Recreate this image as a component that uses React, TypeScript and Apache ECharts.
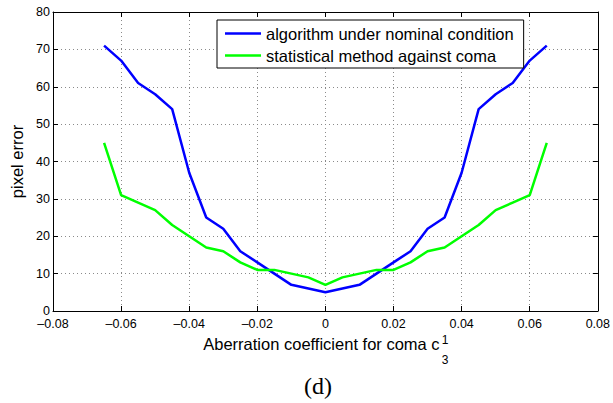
import React, { useEffect, useRef } from "react";
import * as echarts from "echarts";

const xValues = [
  -0.065, -0.06, -0.055, -0.05, -0.045, -0.04, -0.035, -0.03, -0.025, -0.02, -0.015, -0.01, -0.005,
  0, 0.005, 0.01, 0.015, 0.02, 0.025, 0.03, 0.035, 0.04, 0.045, 0.05, 0.055, 0.06, 0.065,
];
const algorithmNominal = [
  71, 67, 61, 58, 54, 37, 25, 22, 16, 13, 10, 7, 6, 5, 6, 7, 10, 13, 16, 22, 25, 37, 54, 58, 61, 67, 71,
];
const statisticalComa = [
  45, 31, 29, 27, 23, 20, 17, 16, 13, 11, 11, 10, 9, 7, 9, 10, 11, 11, 13, 16, 17, 20, 23, 27, 29, 31, 45,
];
const seriesNames = ["algorithm under nominal condition", "statistical method against coma"];
const xAxisTitle = "Aberration coefficient for coma c";
const yAxisTitle = "pixel error";
const panelLabel = "(d)";

const FONT = "'Liberation Sans', Arial, Helvetica, sans-serif";

export default function App() {
  const ref = useRef<HTMLDivElement>(null);
  useEffect(() => {
    if (!ref.current) return;
    const chart = echarts.init(ref.current, null, { renderer: "svg" });
    const grid = { left: 50, right: 8, top: 12, bottom: 92 };
    const fmtX = (v: number) => {
      if (Math.abs(v) < 1e-9) return "0";
      return (v < 0 ? "\u2013" : "") + Math.abs(v).toFixed(2);
    };
    const gridLine = { show: true, lineStyle: { color: "#8a8a8a", type: [1, 3] as any, width: 1 } };
    const axisLine = { show: true, onZero: false, lineStyle: { color: "#000", width: 1 } };
    const tick = { show: true, inside: true, length: 5, lineStyle: { color: "#000" } };
    chart.setOption({
      animation: false,
      backgroundColor: "#fff",
      grid,
      legend: {
        orient: "vertical",
        left: 217,
        top: 20,
        backgroundColor: "#fff",
        borderColor: "#000",
        borderWidth: 1,
        borderRadius: 0,
        padding: [5, 10, 4, 8],
        itemGap: 5,
        itemWidth: 36,
        itemHeight: 2.5,
        textStyle: { fontFamily: FONT, fontSize: 16.5, color: "#000" },
        data: seriesNames.map((n) => ({ name: n, icon: "rect" })),
      },
      xAxis: [
        {
          type: "value",
          min: -0.08,
          max: 0.08,
          interval: 0.02,
          position: "bottom",
          axisLine,
          axisTick: tick,
          splitLine: gridLine,
          axisLabel: {
            formatter: fmtX,
            fontFamily: FONT,
            fontSize: 12.5,
            color: "#000",
            margin: 6,
          },
          name: xAxisTitle,
          nameLocation: "middle",
          nameGap: 24,
          nameTextStyle: { fontFamily: FONT, fontSize: 16.5, color: "#000", padding: [0, 8, 0, 0] },
        },
        {
          type: "value",
          min: -0.08,
          max: 0.08,
          interval: 0.02,
          position: "top",
          axisLine,
          axisTick: tick,
          splitLine: { show: false },
          axisLabel: { show: false },
        },
      ],
      yAxis: [
        {
          type: "value",
          min: 0,
          max: 80,
          interval: 10,
          position: "left",
          axisLine,
          axisTick: tick,
          splitLine: gridLine,
          axisLabel: { fontFamily: FONT, fontSize: 12.5, color: "#000", margin: 3 },
          name: yAxisTitle,
          nameLocation: "middle",
          nameGap: 28,
          nameTextStyle: { fontFamily: FONT, fontSize: 16.5, color: "#000" },
        },
        {
          type: "value",
          min: 0,
          max: 80,
          interval: 10,
          position: "right",
          axisLine,
          axisTick: tick,
          splitLine: { show: false },
          axisLabel: { show: false },
        },
      ],
      series: [
        {
          name: seriesNames[0],
          type: "line",
          showSymbol: false,
          symbol: "none",
          data: xValues.map((x, i) => [x, algorithmNominal[i]]),
          lineStyle: { color: "#0000ff", width: 2.5 },
          itemStyle: { color: "#0000ff" },
        },
        {
          name: seriesNames[1],
          type: "line",
          showSymbol: false,
          symbol: "none",
          data: xValues.map((x, i) => [x, statisticalComa[i]]),
          lineStyle: { color: "#00ff00", width: 2.5 },
          itemStyle: { color: "#00ff00" },
        },
      ],
      graphic: [
        {
          type: "text",
          x: 445,
          y: 340,
          style: { text: "1", fontFamily: FONT, fontSize: 12, fill: "#000", align: "center", verticalAlign: "middle" },
        },
        {
          type: "text",
          x: 445,
          y: 360,
          style: { text: "3", fontFamily: FONT, fontSize: 12, fill: "#000", align: "center", verticalAlign: "middle" },
        },
        {
          type: "text",
          x: 318,
          y: 386,
          style: {
            text: panelLabel,
            fontFamily: "'Liberation Serif', 'Times New Roman', serif",
            fontSize: 24,
            fill: "#000",
            align: "center",
            verticalAlign: "middle",
          },
        },
      ],
    });
    return () => chart.dispose();
  }, []);
  return (
    <div
      ref={ref}
      style={{ position: "absolute", left: 0, top: 0, width: 613, height: 403, background: "#fff" }}
    />
  );
}
